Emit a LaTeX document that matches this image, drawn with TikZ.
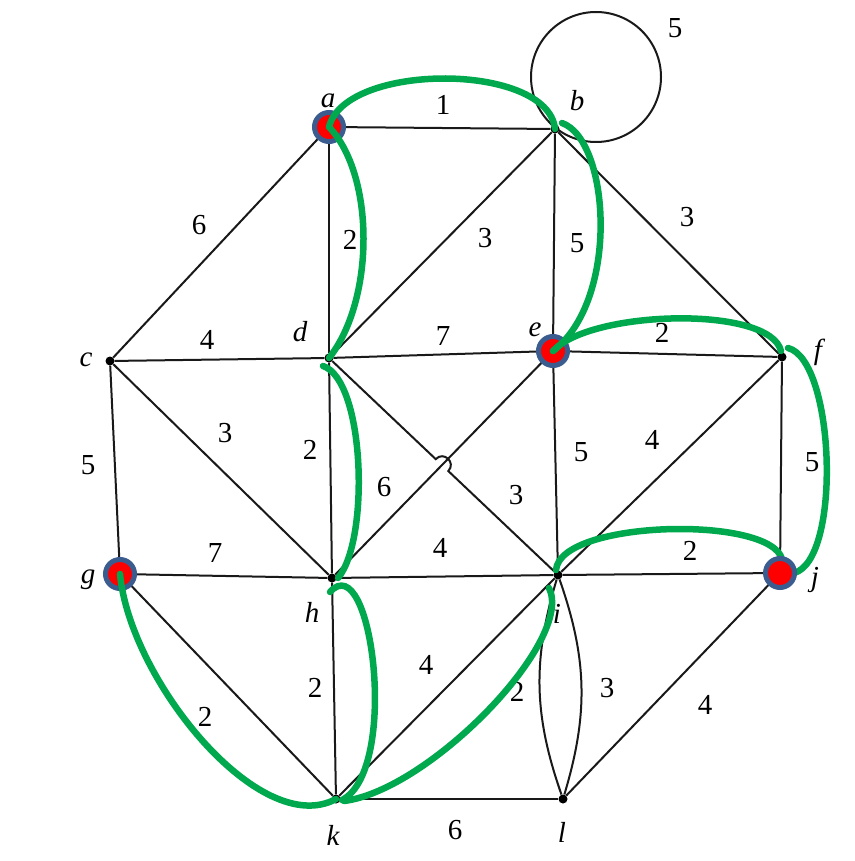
\documentclass[tikz,border=0pt]{standalone}
\usepackage{fontspec}
\setmainfont{Liberation Serif}
\usetikzlibrary{calc}
\definecolor{hlgreen}{RGB}{0,168,78}
\definecolor{ringblue}{RGB}{59,92,143}
\definecolor{dotred}{RGB}{255,0,0}
\begin{document}
\begin{tikzpicture}[x=1pt,y=-1pt,
  vtx/.style={circle,fill=black,inner sep=0pt,minimum size=9pt},
  edgeline/.style={line width=2pt,draw=black!90},
  hl/.style={line width=6.5pt,draw=hlgreen,line cap=round},
  picked/.style={circle,fill=dotred,draw=ringblue,line width=5pt,inner sep=0pt,minimum size=29pt},
  lbl/.style={font=\fontsize{29}{30}\selectfont\itshape,inner sep=0pt},
  wt/.style={font=\fontsize{29}{30}\selectfont,inner sep=0pt}]
\useasboundingbox (0,0) rectangle (854,861);
\fill[white] (0,0) rectangle (854,861);
% vertices
\node[vtx] (a) at (329,127) {};
\node[vtx] (b) at (555,129) {};
\node[vtx] (c) at (110,361) {};
\node[vtx] (d) at (329,358) {};
\node[vtx] (e) at (553,351) {};
\node[vtx] (f) at (782,357) {};
\node[vtx] (g) at (120,574) {};
\node[vtx] (h) at (332,578) {};
\node[vtx] (i) at (558,575) {};
\node[vtx] (j) at (780,573) {};
\node[vtx] (k) at (336,799) {};
\node[vtx] (l) at (563,799) {};
% black edges
\draw[edgeline] (a) -- (b);
\draw[edgeline] (a) -- (c);
\draw[edgeline] (a) -- (d);
\draw[edgeline] (b) -- (d);
\draw[edgeline] (b) -- (e);
\draw[edgeline] (b) -- (f);
\draw[edgeline] (c) -- (d);
\draw[edgeline] (d) -- (e);
\draw[edgeline] (e) -- (f);
\draw[edgeline] (c) -- (g);
\draw[edgeline] (c) -- (h);
\draw[edgeline] (d) -- (h);
\draw[edgeline] (e) -- (h);
\coordinate (hopA) at ($(d)!0.466!(i)$);
\coordinate (hopB) at ($(d)!0.521!(i)$);
\draw[edgeline] (d) -- (hopA) .. controls +(8,-8.5) and +(8,-8.5) .. (hopB) -- (i);
\draw[edgeline] (e) -- (i);
\draw[edgeline] (f) -- (i);
\draw[edgeline] (f) -- (j);
\draw[edgeline] (g) -- (h);
\draw[edgeline] (h) -- (i);
\draw[edgeline] (i) -- (j);
\draw[edgeline] (g) -- (k);
\draw[edgeline] (h) -- (k);
\draw[edgeline] (i) -- (k);
\draw[edgeline] (i) to[bend left=18] (l);
\draw[edgeline] (i) to[bend right=18] (l);
\draw[edgeline] (j) -- (l);
\draw[edgeline] (k) -- (l);
\coordinate (bloop) at (596,77);
\draw[edgeline] (bloop) circle[radius=65pt];
% vertex labels
\node[lbl] (la) at (328,101) {a};
\node[lbl] (lb) at (577,101) {b};
\node[lbl] (lc) at (86,360) {c};
\node[lbl] (ld) at (300,332) {d};
\node[lbl] (le) at (535,330) {e};
\node[lbl] (lf) at (818,352) {f};
\node[lbl] (lg) at (88,580) {g};
\node[lbl] (lh) at (312,612) {h};
\node[lbl] (li) at (557,614) {i};
\node[lbl] (lj) at (815,580) {j};
\node[lbl] (lk) at (333,835) {k};
\node[lbl] (ll) at (562,832) {l};
% weights
\node[wt] (w1) at (443,105) {1};
\node[wt] (w2) at (675,28) {5};
\node[wt] (w3) at (199,225) {6};
\node[wt] (w4) at (350,240) {2};
\node[wt] (w5) at (485,238) {3};
\node[wt] (w6) at (577,243) {5};
\node[wt] (w7) at (687,217) {3};
\node[wt] (w8) at (207,340) {4};
\node[wt] (w9) at (443,336) {7};
\node[wt] (w10) at (662,333) {2};
\node[wt] (w11) at (88,465) {5};
\node[wt] (w12) at (225,433) {3};
\node[wt] (w13) at (310,450) {2};
\node[wt] (w14) at (384,487) {6};
\node[wt] (w15) at (516,495) {3};
\node[wt] (w16) at (581,452) {5};
\node[wt] (w17) at (652,440) {4};
\node[wt] (w18) at (812,462) {5};
\node[wt] (w19) at (215,553) {7};
\node[wt] (w20) at (440,548) {4};
\node[wt] (w21) at (690,551) {2};
\node[wt] (w22) at (205,717) {2};
\node[wt] (w23) at (315,688) {2};
\node[wt] (w24) at (426,665) {4};
\node[wt] (w25) at (517,692) {2};
\node[wt] (w26) at (607,688) {3};
\node[wt] (w27) at (705,705) {4};
\node[wt] (w28) at (455,830) {6};
% picked vertices
\node[picked] (pa) at (a) {};
\node[picked] (pe) at (e) {};
\node[picked] (pg) at (g) {};
% green highlighted paths
\draw[hl] (a.center) .. controls (345,62) and (548,62) .. (b.center);
\draw[hl] (a.center) .. controls (375,175) and (375,300) .. (d.center);
\draw[hl] ([shift={(7,-6)}]b.center) .. controls (610,140) and (620,300) .. (e.center);
\draw[hl] (e.center) .. controls (590,310) and (770,305) .. ([shift={(-1,-6)}]f.center);
\draw[hl] ([shift={(6,-9)}]f.center) .. controls (835,360) and (842,560) .. ([shift={(14,0)}]j.center);
\draw[hl] ([shift={(-6,8)}]d.center) .. controls (365,380) and (370,540) .. ([shift={(6,0)}]h.center);
\draw[hl] ([shift={(-2,14)}]h.center) .. controls (372,545) and (400,770) .. ([shift={(6,1)}]k.center);
\draw[hl] (g.center) .. controls (130,680) and (260,840) .. (k.center);
\draw[hl] ([shift={(8,2)}]k.center) .. controls (430,790) and (575,640) .. ([shift={(-9,13)}]i.center);
\draw[hl] ([shift={(-2,-5)}]i.center) .. controls (560,520) and (770,515) .. ([shift={(2,-14)}]j.center);
\node[picked] (pj) at (j) {};
\end{tikzpicture}
\end{document}
